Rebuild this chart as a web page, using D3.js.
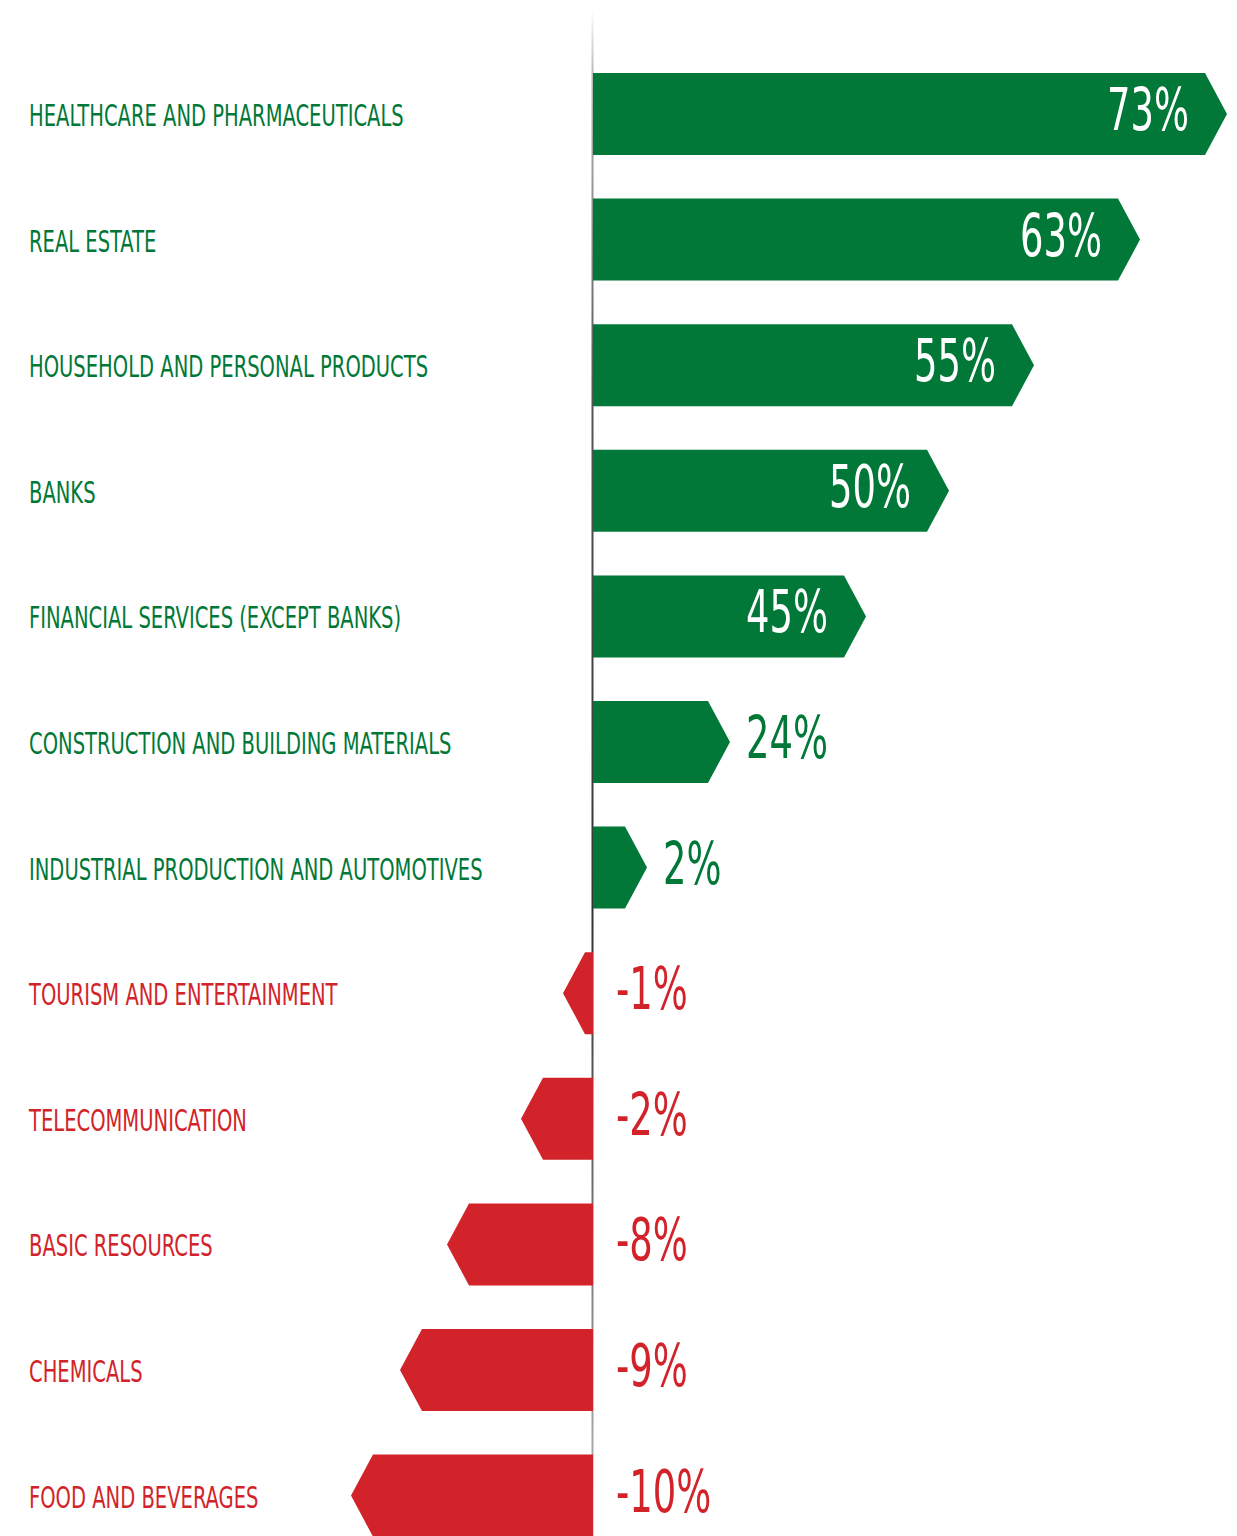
<!DOCTYPE html>
<html>
<head>
<meta charset="utf-8">
<script src="https://cdn.jsdelivr.net/npm/d3@7"></script>
<style>
  body { margin: 0; background: #fff; }
  svg { display: block; }
  text { font-family: "Liberation Sans Narrow", "DejaVu Sans Condensed", "Roboto", sans-serif; }
</style>
</head>
<body>
<script>
// categories and values, top to bottom
var categories = [
  "HEALTHCARE AND PHARMACEUTICALS",
  "REAL ESTATE",
  "HOUSEHOLD AND PERSONAL PRODUCTS",
  "BANKS",
  "FINANCIAL SERVICES (EXCEPT BANKS)",
  "CONSTRUCTION AND BUILDING MATERIALS",
  "INDUSTRIAL PRODUCTION AND AUTOMOTIVES",
  "TOURISM AND ENTERTAINMENT",
  "TELECOMMUNICATION",
  "BASIC RESOURCES",
  "CHEMICALS",
  "FOOD AND BEVERAGES"
];
var values = [73, 63, 55, 50, 45, 24, 2, -1, -2, -8, -9, -10];
var valueLabels = ["73%", "63%", "55%", "50%", "45%", "24%", "2%", "-1%", "-2%", "-8%", "-9%", "-10%"];

var width = 1237, height = 1536;
var axisX = 593, tip = 22;
var green = "#017838", red = "#d2232a";

var data = categories.map(function(c, i) {
  return { name: c, value: values[i], label: valueLabels[i] };
});

var svg = d3.select("body").append("svg")
    .attr("width", width)
    .attr("height", height);

// the original bars are not proportional, so use a piecewise scale
var sorted = values.slice().sort(d3.ascending);
var x = d3.scaleLinear()
    .domain([-10, -9, -8, -2, -1, 0, 2, 24, 45, 50, 55, 63, 73])
    .range([351, 400, 447, 521, 563, 593, 647, 730, 866, 949, 1034, 1140, 1227]);

var y = d3.scaleBand()
    .domain(categories)
    .range([73, 1536.6])
    .paddingInner(0.347)
    .paddingOuter(0);

// axis line with fading ends
var defs = svg.append("defs");
var grad = defs.append("linearGradient")
    .attr("id", "axisGrad")
    .attr("gradientUnits", "userSpaceOnUse")
    .attr("x1", 0).attr("y1", 10).attr("x2", 0).attr("y2", height);
[[0, "#ffffff"], [0.04, "#bbbbbb"], [0.25, "#555555"], [0.6, "#333333"], [0.85, "#888888"], [1, "#bbbbbb"]]
  .forEach(function(s) {
    grad.append("stop").attr("offset", s[0]).attr("stop-color", s[1]);
  });

svg.append("line")
    .attr("x1", axisX - 0.5).attr("x2", axisX - 0.5)
    .attr("y1", 10).attr("y2", height)
    .attr("stroke", "url(#axisGrad)")
    .attr("stroke-width", 2);

function arrow(d) {
  var y0 = y(d.name), h = y.bandwidth(), x0 = x(0), x1 = x(d.value);
  var dir = d.value >= 0 ? 1 : -1;
  var xb = x1 - dir * tip;
  return "M" + x0 + "," + y0 +
    "L" + xb + "," + y0 +
    "L" + x1 + "," + (y0 + h / 2) +
    "L" + xb + "," + (y0 + h) +
    "L" + x0 + "," + (y0 + h) + "Z";
}

svg.selectAll(".bar")
    .data(data)
  .enter().append("path")
    .attr("class", "bar")
    .attr("d", arrow)
    .attr("fill", function(d) { return d.value >= 0 ? green : red; });

// category labels
var catSize = 31;
var cats = svg.selectAll(".cat")
    .data(data)
  .enter().append("text")
    .attr("class", "cat")
    .attr("font-size", catSize)
    .attr("fill", function(d) { return d.value >= 0 ? green : red; })
    .text(function(d) { return d.name; });

// squeeze text to the condensed look of the original
var catScale = 375 / cats.node().getComputedTextLength();
cats.attr("transform", function(d) {
  var cy = y(d.name) + y.bandwidth() / 2 + 12;
  return "translate(29," + cy + ") scale(" + catScale + ",1)";
});

// value labels
var valSize = 59;
var vals = svg.selectAll(".val")
    .data(data)
  .enter().append("text")
    .attr("class", "val")
    .attr("font-size", valSize)
    .text(function(d) { return d.label; });

var valScale = 82 / vals.node().getComputedTextLength();

vals.each(function(d) {
  var t = d3.select(this);
  var cy = y(d.name) + y.bandwidth() / 2 + 16;
  var inside = d.value >= 40;
  var tx, anchor, fill;
  if (inside) {
    tx = x(d.value) - 38; anchor = "end"; fill = "#fff";
  } else if (d.value >= 0) {
    tx = x(d.value) + 16; anchor = "start"; fill = green;
  } else {
    tx = axisX + 23; anchor = "start"; fill = red;
  }
  t.attr("text-anchor", anchor)
    .attr("fill", fill)
    .attr("transform", "translate(" + tx + "," + cy + ") scale(" + valScale + ",1)");
});
</script>
</body>
</html>
